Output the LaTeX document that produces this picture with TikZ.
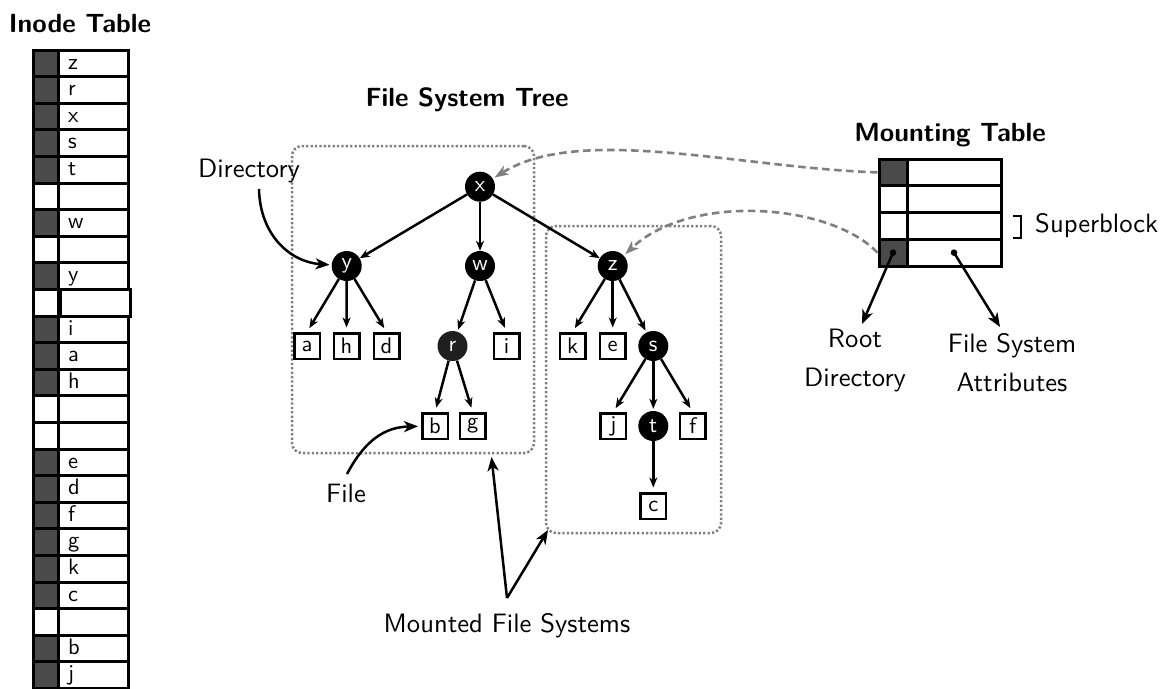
\documentclass[tikz,border=0pt]{standalone}
\usetikzlibrary{arrows.meta}
\definecolor{cellgray}{HTML}{4A4A4A}
\definecolor{dotgray}{HTML}{808080}
\definecolor{dashgray}{HTML}{7F7F7F}
\newcommand{\lbltxt}[1]{\scalebox{2.66}{#1}}
\newcommand{\ttltxt}[1]{\scalebox{2.63}{\bfseries #1}}
\newcommand{\nodetxt}[1]{\scalebox{2.25}{#1}}
\newcommand{\twolines}[2]{\scalebox{2.66}{\begin{tabular}{@{}c@{}}#1\\[2.7pt]#2\end{tabular}}}
\begin{document}
\begin{tikzpicture}[x=1pt,y=-1pt,
  font=\sffamily\fontsize{10}{12}\selectfont,
  lbl/.style={inner sep=0pt},
  ttl/.style={inner sep=0pt},
  dirnode/.style={circle, fill=black, minimum size=30pt, inner sep=0pt, text=white},
  filenode/.style={draw, line width=2.5pt, minimum width=25.5pt, minimum height=25.5pt,
    inner sep=0pt},
  tedge/.style={line width=2.5pt, -{Stealth[length=10pt,width=8pt,inset=3pt]}},
  tobox/.style={tedge, shorten >=4.5pt},
  tocirc/.style={tedge, shorten >=2pt},
  bigarrow/.style={line width=2.5pt, -{Stealth[length=14pt,width=11pt,inset=4pt]}},
  mountarrow/.style={line width=2.6pt, dashgray, dash pattern=on 7.5pt off 4.5pt,
    -{Stealth[length=14pt,width=10pt,inset=4pt]}, shorten >=2pt},
  fsbox/.style={draw=dotgray, line width=2.5pt, dash pattern=on 2.3pt off 2.1pt,
    rounded corners=10pt, inner sep=0pt},
  cellbox/.style={draw, line width=3pt, inner sep=0pt},
  inodetxt/.style={inner sep=0pt, anchor=base west},
]
\path[use as bounding box] (0,0) rectangle (1167,688);

% ---------- Inode table ----------
\node[ttl] (inodettl) at (80,24) {\ttltxt{Inode Table}};
\foreach \i/\lab/\g in {0/z/1,1/r/1,2/x/1,3/s/1,4/t/1,5//0,6/w/1,7//0,8/y/1,9//0,
    10/i/1,11/a/1,12/h/1,13//0,14//0,15/e/1,16/d/1,17/f/1,18/g/1,19/k/1,20/c/1,21//0,22/b/1,23/j/1}{
  \pgfmathsetmacro{\T}{50+26.6*\i}
  \ifnum\g=1
    \draw[line width=3pt, fill=cellgray] (33,\T) rectangle (58,\T+26.6);
  \else
    \draw[line width=3pt, fill=white] (33,\T) rectangle (58,\T+26.6);
  \fi
  \ifnum\i=9
    \draw[line width=3pt, fill=white] (60,\T) rectangle (130,\T+26.6);
  \else
    \draw[line width=3pt, fill=white] (58,\T) rectangle (128,\T+26.6);
  \fi
  \node[inodetxt] (in\i) at (68,\T+19) {\nodetxt{\lab}};
}

% ---------- File system tree ----------
\node[ttl] (treettl) at (467,100) {\ttltxt{File System Tree}};
\node[fsbox, minimum width=242pt, minimum height=307pt] (fs1) at (413,299.5) {};
\node[fsbox, minimum width=175pt, minimum height=307pt] (fs2) at (633.5,379.5) {};

\node[dirnode] (x) at (480,186.7) {\nodetxt{x}};
\node[dirnode] (y) at (346.7,266) {\nodetxt{y}};
\node[dirnode] (w) at (480,266) {\nodetxt{w}};
\node[dirnode] (z) at (612.7,266) {\nodetxt{z}};
\node[filenode] (a) at (307,346) {\nodetxt{a}};
\node[filenode] (h) at (346.5,346) {\nodetxt{h}};
\node[filenode] (d) at (386.5,346) {\nodetxt{d}};
\node[dirnode, fill=black!88] (r) at (452.5,346) {\nodetxt{r}};
\node[filenode] (i) at (506.5,346) {\nodetxt{i}};
\node[filenode] (k) at (572.5,346) {\nodetxt{k}};
\node[filenode] (e) at (612.7,346) {\nodetxt{e}};
\node[dirnode] (s) at (653.3,346) {\nodetxt{s}};
\node[filenode] (b) at (435,426) {\nodetxt{b}};
\node[filenode] (g) at (472.7,426) {\nodetxt{g}};
\node[filenode] (j) at (613.3,426) {\nodetxt{j}};
\node[dirnode] (t) at (653.3,426) {\nodetxt{t}};
\node[filenode] (f) at (692.7,426) {\nodetxt{f}};
\node[filenode] (c) at (653.3,506) {\nodetxt{c}};

\draw[tedge] (x) -- (y);
\draw[tedge] (x) -- (w);
\draw[tedge] (x) -- (z);
\draw[tobox] (y) -- (a.north);
\draw[tobox] (y) -- (h.north);
\draw[tobox] (y) -- (d.north);
\draw[tocirc] (w) -- (r);
\draw[tobox] (w) -- (i.north);
\draw[tobox] (r) -- (b.north);
\draw[tobox] (r) -- (g.north);
\draw[tobox] (z) -- (k.north);
\draw[tobox] (z) -- (e.north);
\draw[tocirc] (z) -- (s);
\draw[tobox] (s) -- (j.north);
\draw[tocirc] (s) -- (t);
\draw[tobox] (s) -- (f.north);
\draw[tobox] (t) -- (c.north);

% ---------- Labels ----------
\node[lbl] (dirlbl) at (249,171) {\lbltxt{Directory}};
\node[lbl] (filelbl) at (346,493) {\lbltxt{File}};
\node[lbl] (mfslbl) at (507,626) {\lbltxt{Mounted File Systems}};
\coordinate (dirstart) at (259,189);
\coordinate (filestart) at (347,474);
\coordinate (mfsstart) at (507,598);
\coordinate (fs1tip) at (491.5,457);
\coordinate (fs2tip) at (548,530);
\draw[bigarrow, shorten >=2pt] (dirstart) .. controls (260,235) and (290,262) .. (y);
\draw[bigarrow, shorten >=3pt] (filestart) .. controls (365,440) and (385,427) .. (b);
\draw[bigarrow] (mfsstart) -- (fs1tip);
\draw[bigarrow] (mfsstart) -- (fs2tip);

% ---------- Mounting table ----------
\node[ttl] (mtttl) at (950,135) {\ttltxt{Mounting Table}};
\foreach \k/\gg in {0/1,1/0,2/0,3/1}{
  \pgfmathsetmacro{\C}{159+26.75*\k+13.375}
  \ifnum\gg=1
    \node[cellbox, fill=cellgray, minimum width=28pt, minimum height=26.75pt] (mt\k g) at (893,\C) {};
  \else
    \node[cellbox, fill=white, minimum width=28pt, minimum height=26.75pt] (mt\k g) at (893,\C) {};
  \fi
  \node[cellbox, fill=white, minimum width=94pt, minimum height=26.75pt] (mt\k w) at (954,\C) {};
}
\draw[mountarrow] (mt0g.west) .. controls (740,168) and (580,124) .. (x);
\draw[mountarrow] (mt3g.west) .. controls (830,203) and (690,193) .. (z);

\draw[line width=2.5pt] (1013,216) -- (1021,216) -- (1021,238) -- (1013,238);
\node[lbl, anchor=west] (sblbl) at (1035,226) {\lbltxt{Superblock}};

\coordinate (rdot) at (mt3g.center);
\coordinate (adot) at (mt3w.center);
\fill (rdot) circle (3.3);
\fill (adot) circle (3.3);
\node[lbl] (rootlbl) at (855,361) {\twolines{Root}{Directory}};
\node[lbl] (attrlbl) at (1012,366) {\twolines{File System}{Attributes}};
\coordinate (rtip) at (862,324);
\coordinate (atip) at (1000,327);
\draw[bigarrow] (rdot) -- (rtip);
\draw[bigarrow] (adot) -- (atip);
\end{tikzpicture}
\end{document}
